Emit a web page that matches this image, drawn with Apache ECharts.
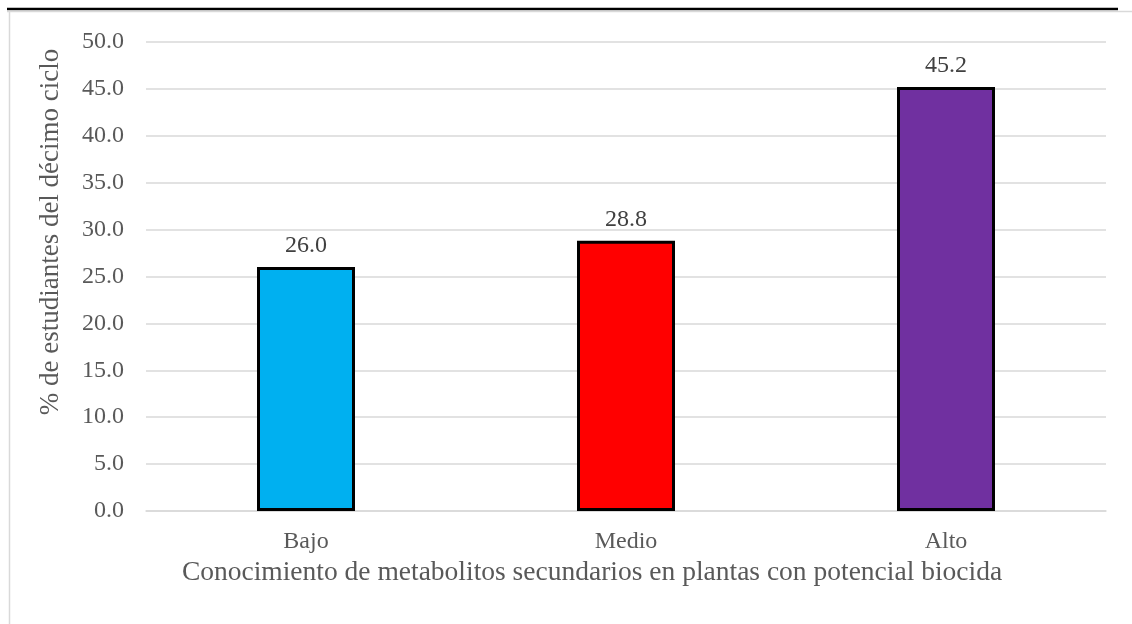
<!DOCTYPE html>
<html>
<head>
<meta charset="utf-8">
<script src="https://cdn.jsdelivr.net/npm/echarts@6/dist/echarts.min.js"></script>
<style>
html, body { margin: 0; padding: 0; background: #fff; }
#chart { width: 1132px; height: 624px; }
</style>
</head>
<body>
<div id="chart"></div>
<script>
// Knowledge levels and share of tenth-cycle students in each
const categories = ['Bajo', 'Medio', 'Alto'];
const values = [26.0, 28.8, 45.2];
const barColors = ['#00B0F0', '#FF0000', '#7030A0'];
const yTicks = { min: 0, max: 50, interval: 5 };
const xTitle = 'Conocimiento de metabolitos secundarios en plantas con potencial biocida';
const yTitle = '% de estudiantes del décimo ciclo';

const serif = '"Liberation Serif", "Times New Roman", serif';
const textGray = '#595959';

const chart = echarts.init(document.getElementById('chart'), null, { renderer: 'canvas' });

chart.setOption({
  backgroundColor: '#ffffff',
  animation: false,
  grid: { left: 146, right: 26, top: 42, bottom: 113 },
  xAxis: {
    type: 'category',
    data: categories,
    axisLine: { show: true, lineStyle: { color: '#d9d9d9', width: 1.5 } },
    axisTick: { show: false },
    axisLabel: { color: textGray, fontFamily: serif, fontSize: 24, margin: 19 }
  },
  yAxis: {
    type: 'value',
    min: yTicks.min,
    max: yTicks.max,
    interval: yTicks.interval,
    axisLine: { show: false },
    axisTick: { show: false },
    splitLine: { lineStyle: { color: '#d9d9d9', width: 1.5 } },
    axisLabel: {
      color: textGray, fontFamily: serif, fontSize: 24, margin: 22,
      formatter: v => v.toFixed(1)
    }
  },
  series: [{
    type: 'bar',
    barWidth: 98,
    data: values.map((v, i) => ({
      value: v,
      itemStyle: { color: barColors[i], borderColor: '#000', borderWidth: 3 }
    })),
    label: {
      show: true,
      position: 'top',
      distance: 9,
      color: '#404040',
      fontFamily: serif,
      fontSize: 24,
      formatter: p => p.value.toFixed(1)
    }
  }],
  graphic: [
    // frame lines around the figure
    { type: 'line', shape: { x1: 7, y1: 9, x2: 1118, y2: 9 }, style: { stroke: '#000', lineWidth: 2.5 } },
    { type: 'line', shape: { x1: 7, y1: 11.5, x2: 1132, y2: 11.5 }, style: { stroke: '#d9d9d9', lineWidth: 1.5 } },
    { type: 'line', shape: { x1: 9.5, y1: 11, x2: 9.5, y2: 624 }, style: { stroke: '#d9d9d9', lineWidth: 1.5 } },
    // x-axis title
    {
      type: 'text',
      x: 592, y: 573,
      style: {
        text: xTitle,
        fill: textGray,
        font: '27.5px ' + serif,
        textAlign: 'center',
        textVerticalAlign: 'middle'
      }
    },
    // rotated y-axis title
    {
      type: 'text',
      x: 51, y: 232,
      rotation: Math.PI / 2,
      style: {
        text: yTitle,
        fill: textGray,
        font: '27px ' + serif,
        textAlign: 'center',
        textVerticalAlign: 'middle'
      }
    }
  ]
});
</script>
</body>
</html>
